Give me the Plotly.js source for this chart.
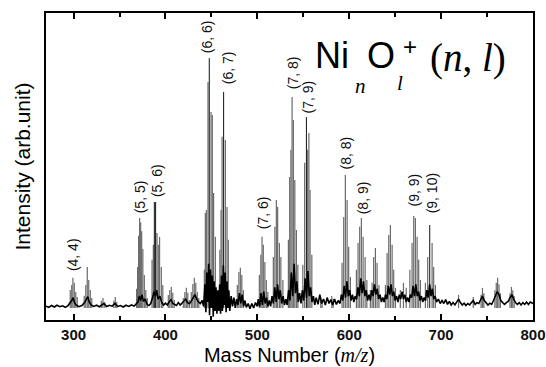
<!DOCTYPE html>
<html>
<head>
<meta charset="utf-8">
<script src="https://cdn.plot.ly/plotly-3.0.1.min.js"></script>
<style>html,body{margin:0;padding:0;background:#fff;}#chart{width:546px;height:367px;}</style>
</head>
<body>
<div id="chart"></div>
<script>
// Gray isotope sticks: mass (m/z) and intensity (arb. unit)
const stickMass = [
  296.4, 298.0, 299.3, 300.8, 302.4, 304.0,
  311.6, 313.3, 314.9, 316.5, 318.2, 319.8,
  330.2, 332.0, 334.0, 343.8, 345.4, 347.0,
  368.6, 369.7, 370.8, 371.9, 373.0, 374.1, 375.4, 377.0, 378.6, 380.2,
  385.4, 386.8, 390.8, 392.2, 393.6, 395.5, 397.1,
  403.1, 404.7, 406.4, 408.0, 409.6,
  419.4, 421.1, 422.7, 424.3, 426.0,
  428.1, 429.8, 431.4, 433.0, 434.7, 436.3,
  442.3, 443.4, 444.5, 446.3, 449.6, 451.0, 452.4, 454.3,
  459.2, 460.5, 461.6, 465.2, 467.0, 468.4,
  478.2, 479.9, 481.5, 483.1, 484.8,
  502.2, 503.8, 505.1, 506.5, 508.2, 509.8, 511.4,
  517.4, 519.1, 520.7, 522.1, 524.0, 525.6, 527.8,
  533.8, 535.2, 536.5, 537.8, 539.2, 540.8, 542.5, 544.1,
  549.5, 551.5, 554.8, 556.1, 557.4, 559.3,
  569.0, 570.5, 581.0, 582.5,
  592.2, 594.0, 595.8, 597.7, 599.4, 601.3,
  607.8, 609.6, 611.4, 613.2, 615.1, 617.3, 619.2,
  623.0, 624.9, 626.6, 628.5, 630.3, 632.3,
  639.4, 641.2, 643.0, 644.8, 646.7, 648.4, 650.3,
  655.6, 659.0, 662.0,
  666.0, 668.4, 670.2, 672.0, 673.9, 675.6, 677.5,
  682.9, 685.4, 690.2, 691.9, 693.8,
  719.0, 735.0,
  743.5, 745.0, 746.5,
  758.5, 760.0, 761.5, 763.0, 764.5,
  775.0, 776.5, 778.0, 779.5
];
const stickInt = [
  6.1, 7.8, 10.2, 8.5, 5.4, 3.7,
  4.1, 7.8, 13.9, 9.5, 6.1, 3.4,
  2.4, 3.4, 2.0, 2.4, 3.7, 2.0,
  6.5, 13.9, 24.5, 30.5, 29.0, 26.0, 20.0, 11.2, 6.1, 3.4,
  16.3, 21.4, 25.4, 21.4, 24.1, 13.9, 7.8,
  4.4, 6.1, 7.1, 5.1, 2.7,
  3.4, 5.4, 6.8, 5.1, 2.7,
  5.4, 8.1, 10.2, 8.5, 5.4, 3.4,
  12.9, 32.2, 33.2, 76.6, 66.4, 65.4, 39.0, 24.1,
  19.7, 33.2, 58.0, 56.9, 34.2, 23.1,
  7.8, 12.2, 13.6, 11.2, 6.1,
  11.2, 18.0, 24.1, 21.4, 15.6, 9.5, 5.4,
  17.3, 27.5, 36.6, 34.2, 22.0, 17.3, 9.5,
  23.1, 44.4, 53.6, 71.5, 63.7, 43.4, 26.4, 14.6,
  14.6, 49.2, 53.6, 59.3, 40.0, 18.0,
  3.5, 2.5, 4.0, 3.0,
  15.3, 30.8, 45.1, 36.6, 20.7, 10.5,
  12.9, 22.0, 27.5, 30.5, 24.1, 17.3, 9.5,
  6.1, 8.5, 17.3, 20.3, 15.3, 7.8,
  7.8, 18.6, 24.7, 28.1, 21.4, 12.9, 6.8,
  6.1, 8.5, 6.8,
  12.9, 22.0, 31.2, 30.5, 24.1, 16.3, 9.5,
  8.5, 17.3, 22.0, 13.9, 7.8,
  4.4, 3.7,
  4.5, 6.8, 5.0,
  6.0, 8.5, 10.2, 8.0, 5.0,
  5.0, 7.1, 6.0, 4.0
];
// Dark (black) isotope sticks
const darkMass = [387.9, 389.3, 447.7, 463.3, 553.4, 687.6];
const darkInt  = [35.9, 35.9, 84.7, 73.2, 64.7, 28.1];

// Black spectrum trace (baseline / noise)
const noiseMass = [
  270, 273, 276, 279, 282, 285, 288, 291, 294, 296, 298, 299.5, 301, 303, 306, 309, 312, 314, 315.5, 317, 319, 322, 325, 328, 331, 333, 336, 339, 342, 345, 348, 351, 354, 357, 360, 363, 366, 368,
  370, 371.5, 373, 374.5, 376, 378, 380, 382, 384, 386, 387.5, 389, 390.5, 392, 394, 396, 398, 400, 402, 404, 406, 408, 410, 412, 414, 416, 418, 420, 422, 424, 426, 428, 430, 432, 434, 436, 438, 440,
  441.5, 443, 444, 445, 446, 447, 448, 449, 450, 451, 452, 453, 454, 455, 456, 457, 458, 459, 460, 461, 462, 463, 464, 465, 466, 467, 468, 469, 470, 471.5, 473, 474.5, 476, 477.5, 479, 480.5, 482, 483.5, 485, 486.5, 488, 490, 492, 494, 496, 498, 500,
  501, 502.5, 504, 505.5, 507, 508.5, 510, 511.5, 513, 514.5, 516, 517.5, 519, 520.5, 522, 523.5, 525, 526.5, 528, 529.5, 531, 532.5, 534, 535.5, 537, 538.5, 540, 541.5, 543, 544.5, 546, 547.5, 549, 550.5, 552, 553.5, 555, 556.5, 558, 559.5, 561,
  562.5, 564, 566, 568, 570, 572, 574, 576, 578, 580, 582, 584, 586, 588, 590,
  591.5, 593, 594.5, 596, 597.5, 599, 600.5, 602, 603.5, 605, 606.5, 608, 609.5, 611, 612.5, 614, 615.5, 617, 618.5, 620, 621.5, 623, 624.5, 626, 627.5, 629, 630.5, 632, 633.5, 635, 636.5, 638, 639.5, 641, 642.5, 644, 645.5, 647, 648.5, 650, 651.5, 653, 654.5, 656, 657.5, 659, 660.5, 662, 663.5, 665, 666.5, 668, 669.5, 671, 672.5, 674, 675.5, 677, 678.5, 680, 681.5, 683, 684.5, 686, 687.5, 689, 690.5, 692, 693.5, 695, 697, 699,
  701, 703, 705, 707, 709, 711, 713, 715, 717, 719, 721, 723, 725, 727, 729, 731, 733, 735, 737, 739, 741, 743, 745, 747, 749, 751, 753, 755, 757, 759, 761, 763, 765, 767, 769, 771, 773, 775, 777, 779, 781, 783, 785, 787, 789, 791, 793, 795, 797, 800
];
const noiseInt = [
  0.6, 0.2, 0.8, 0.3, 0.9, 0.4, 0.7, 0.2, 0.8, 1.5, 2.5, 3.5, 1.8, 0.9, 0.4, 0.8, 1.8, 3.0, 3.8, 2.0, 1.0, 0.5, 0.9, 0.4, 1.2, 1.5, 0.5, 0.9, 0.6, 1.5, 0.5, 0.8, 0.3, 0.9, 0.5, 1.0, 0.6, 1.2,
  2.0, 4.0, 2.5, 4.5, 2.2, 3.0, 1.2, 0.8, 1.5, 3.5, 5.5, 4.0, 6.0, 3.0, 4.0, 1.8, 1.0, 1.6, 1.0, 2.0, 2.8, 1.5, 1.2, 0.8, 1.8, 1.0, 1.6, 2.2, 3.0, 1.8, 1.4, 2.2, 3.5, 4.5, 3.0, 2.0, 1.5, 2.5,
  0.5, 8.0, -1.5, 12.0, 2.0, 15.0, -2.5, 13.0, 0.0, 11.0, -3.0, 9.0, -1.0, 7.0, -2.0, 6.0, -1.0, 8.0, -2.0, 11.0, -1.0, 14.5, 1.0, 12.0, -1.5, 9.0, 0.0, 6.0, -1.0, 4.0, 0.5, 3.5, 0.0, 3.0, 1.0, 5.0, 1.5, 4.5, 0.5, 2.5, 0.2, 1.5, -0.3, 1.5, 0.0, 1.8, 0.5,
  3.0, 0.5, 5.0, 1.0, 5.5, 1.5, 3.5, 0.5, 2.5, 0.5, 4.0, 1.5, 7.0, 2.0, 8.0, 3.0, 6.0, 1.5, 4.0, 1.0, 3.0, 1.0, 6.0, 2.5, 12.0, 4.0, 15.0, 5.0, 9.0, 2.0, 5.0, 1.5, 6.0, 2.5, 10.0, 3.5, 12.5, 4.0, 7.0, 2.0, 4.0,
  1.0, 3.5, 1.2, 4.5, 1.5, 3.0, 1.0, 3.5, 1.5, 2.8, 1.0, 3.0, 1.2, 2.5, 1.5,
  4.5, 2.5, 7.5, 3.5, 9.0, 4.0, 6.0, 2.5, 4.5, 2.0, 4.0, 3.0, 7.0, 4.0, 10.0, 5.0, 9.0, 4.0, 6.0, 2.5, 4.5, 2.5, 6.0, 4.0, 8.0, 4.5, 6.5, 3.0, 4.5, 2.0, 3.5, 2.0, 4.5, 3.0, 7.5, 4.5, 8.0, 4.0, 5.5, 2.5, 4.0, 2.0, 4.5, 3.0, 5.5, 3.0, 4.5, 2.0, 3.5, 2.0, 4.5, 3.5, 7.5, 4.0, 8.0, 4.0, 5.5, 2.5, 4.0, 2.0, 3.5, 2.5, 6.0, 3.5, 8.0, 4.0, 6.5, 3.0, 4.0, 2.0, 3.0, 1.5,
  2.5, 1.5, 2.8, 1.2, 2.2, 1.0, 1.8, 1.0, 2.2, 3.0, 1.8, 1.0, 1.6, 0.8, 1.5, 1.0, 1.8, 2.5, 1.2, 1.8, 1.5, 3.0, 4.0, 2.5, 1.8, 1.0, 1.6, 1.2, 2.5, 4.0, 5.5, 4.5, 2.5, 1.8, 1.2, 1.8, 2.2, 3.5, 4.5, 3.0, 1.8, 1.2, 1.8, 1.0, 1.8, 1.2, 2.0, 1.2, 2.0, 1.5
];

// Peak labels (n, l) and their positions
const labelText = ["(4, 4)", "(5, 5)", "(5, 6)", "(6, 6)", "(6, 7)", "(7, 6)", "(7, 8)", "(7, 9)", "(8, 8)", "(8, 9)", "(9, 9)", "(9, 10)"];
const labelMass = [299.7, 372.6, 391.1, 445.6, 468.4, 506.5, 539.2, 555.5, 596.9, 615.4, 669.9, 689.5];
const labelInt  = [18.0, 37.6, 43.1, 91.9, 81.4, 32.2, 79.7, 71.5, 52.5, 37.3, 40.0, 39.0];

const xTickVals = [300, 400, 500, 600, 700, 800];

// Formula label pieces: Ni_n O_l^+ (n, l)
const formulaParts = ["Ni", "<i>n</i>", "O", "<i>l</i>", "+", "(<i>n</i>, <i>l</i>)"];

function sticks(ms, is) {
  const x = [], y = [];
  for (let i = 0; i < ms.length; i++) {
    x.push(ms[i], ms[i], null);
    y.push(0, is[i], null);
  }
  return {x, y};
}

const g = sticks(stickMass, stickInt);
const d = sticks(darkMass, darkInt);

const traces = [
  {x: g.x, y: g.y, type: 'scatter', mode: 'lines', line: {color: '#6a6a6a', width: 1.2}, hoverinfo: 'skip'},
  {x: d.x, y: d.y, type: 'scatter', mode: 'lines', line: {color: '#111111', width: 1}, hoverinfo: 'skip'},
  {x: noiseMass, y: noiseInt, type: 'scatter', mode: 'lines', line: {color: '#000000', width: 1.6}, hoverinfo: 'skip'}
];

const SANS = 'Liberation Sans, Arial, sans-serif';
const SERIF = 'Liberation Serif, Times New Roman, serif';

const annotations = labelText.map((t, i) => ({
  x: labelMass[i], y: labelInt[i], xref: 'x', yref: 'y',
  text: t, textangle: -90, showarrow: false,
  xanchor: 'center', yanchor: 'middle',
  font: {family: SANS, size: 14, color: '#111'}
}));

// plot area in pixels: left 46, top 13, width 487, height 307
const px = v => (v - 46) / 487;
const py = v => (320 - v) / 307;
const formulaStyle = [
  {x: 313, y: 56, fam: SANS, size: 36},
  {x: 353, y: 86, fam: SERIF, size: 21},
  {x: 365, y: 56, fam: SANS, size: 36},
  {x: 395, y: 83, fam: SERIF, size: 21},
  {x: 401, y: 46, fam: SANS, size: 24},
  {x: 428, y: 58, fam: SERIF, size: 39}
];
formulaParts.forEach((t, i) => {
  const s = formulaStyle[i];
  annotations.push({
    x: px(s.x), y: py(s.y), xref: 'paper', yref: 'paper',
    xanchor: 'left', yanchor: 'middle', showarrow: false,
    text: t, font: {family: s.fam, size: s.size, color: '#000'}
  });
});

const layout = {
  width: 546, height: 367,
  margin: {l: 46, r: 13, t: 13, b: 47},
  paper_bgcolor: '#fff', plot_bgcolor: '#fff',
  showlegend: false,
  font: {family: SANS, color: '#000'},
  xaxis: {
    range: [270, 800], tickvals: xTickVals, ticktext: xTickVals.map(v => '<b>' + v + '</b>'),
    ticks: 'inside', ticklen: 6, tickwidth: 2, tickcolor: '#000',
    minor: {dtick: 50, tick0: 250, ticks: 'inside', ticklen: 4, tickwidth: 2, tickcolor: '#000'},
    showline: true, linecolor: '#000', linewidth: 2, mirror: 'allticks',
    showgrid: false, zeroline: false,
    tickfont: {family: SANS, size: 15, color: '#111'},
    title: {text: 'Mass Number (<i><span style="font-family:Liberation Serif">m/z</span></i>)', font: {size: 20}, standoff: 6}
  },
  yaxis: {
    range: [-4.1, 100], showticklabels: false, ticks: '',
    showline: true, linecolor: '#000', linewidth: 2, mirror: true,
    showgrid: false, zeroline: false,
    title: {text: 'Intensity (arb.unit)', font: {size: 21}, standoff: 8}
  },
  annotations: annotations
};

Plotly.newPlot('chart', traces, layout, {staticPlot: true, displayModeBar: false});
</script>
</body>
</html>
